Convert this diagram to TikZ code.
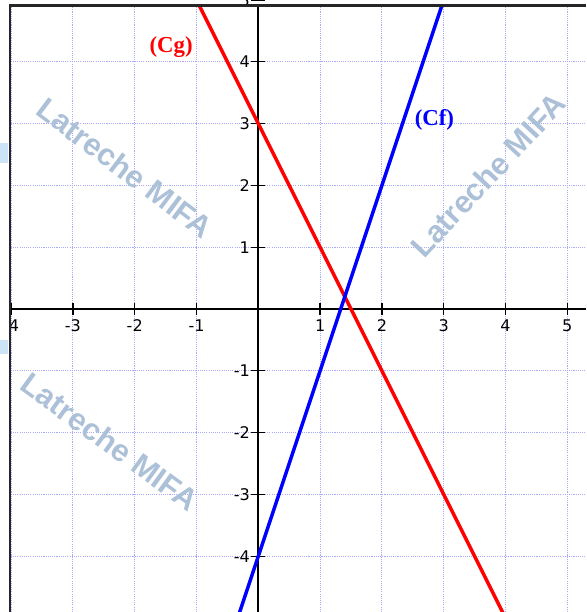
\documentclass[tikz,border=0pt]{standalone}
\usepackage{fontspec}
\setmainfont{Liberation Serif}
\newfontfamily\tickfont{DejaVu Sans}
\newfontfamily\wmfont{Liberation Sans}
\definecolor{gridc}{RGB}{170,170,250}
\definecolor{wmc}{RGB}{172,192,216}
\definecolor{cfblue}{RGB}{0,0,255}
\definecolor{cgred}{RGB}{255,0,0}
\definecolor{sidec}{RGB}{204,228,247}
\begin{document}
\begin{tikzpicture}[x=1cm,y=1cm,
  gridline/.style={gridc, line width=0.5pt, dash pattern=on 0.5pt off 0.5pt},
  axisline/.style={black, line width=0.9pt},
  tickmark/.style={black, line width=0.6pt},
  ticklabel/.style={font=\tickfont\fontsize{7.4}{8}\selectfont, inner sep=0pt},
  curve/.style={line width=1.6pt},
  curvelabel/.style={font=\bfseries\fontsize{10.5}{12}\selectfont, inner sep=0pt},
  watermark/.style={text=wmc, font=\wmfont\bfseries\fontsize{14.2}{16}\selectfont, inner sep=0pt},
  framebar/.style={line width=1.2pt, black!85}]
\useasboundingbox (-4.180,-4.903) rectangle (5.303,5.0);
% side artifacts
\fill[sidec] (-4.18,2.362) rectangle (-4.05,2.686);
\fill[sidec] (-4.18,-0.728) rectangle (-4.05,-0.502);
\begin{scope}
  \clip (-4.018,-4.903) rectangle (5.303,4.911);
  % grid
  \foreach \x in {-4,...,5} \draw[gridline] (\x,-4.903) -- (\x,5);
  \foreach \y in {-4,...,4} \draw[gridline] (-4.18,\y) -- (5.303,\y);
  % watermarks
  \node[watermark, rotate=-37] (wm1) at (-2.16,2.28) {Latreche MIFA};
  \node[watermark, rotate=47] (wm2) at (3.72,2.17) {Latreche MIFA};
  \node[watermark, rotate=-36] (wm3) at (-2.40,-2.15) {Latreche MIFA};
  % axes
  \coordinate (xl) at (-4.18,0);
  \coordinate (xr) at (5.303,0);
  \coordinate (yb) at (0,-4.903);
  \coordinate (yt) at (0,5);
  \draw[axisline] (xl) -- (xr);
  \draw[axisline] (yb) -- (yt);
  % ticks and labels
  \foreach \x in {-4,-3,-2,-1,1,2,3,4,5} {
    \draw[tickmark] (\x,-0.097) -- (\x,0.097);
    \node[ticklabel] (xlab\x) at (\x,-0.275) {\ifnum\x<0 -\the\numexpr-\x\relax\else\x\fi};
  }
  \foreach \y in {-4,-3,-2,-1,1,2,3,4} {
    \draw[tickmark] (-0.12,\y) -- (0.11,\y);
    \node[ticklabel, anchor=east] (ylab\y) at (-0.13,\y) {\ifnum\y<0 -\the\numexpr-\y\relax\else\y\fi};
  }
  % curves
  \coordinate (g1) at (-1,5);
  \coordinate (g2) at (4,-5);
  \coordinate (f1) at (-1/3,-5);
  \coordinate (f2) at (3,5);
  \draw[curve, cgred] (g1) -- (g2);
  \draw[curve, cfblue] (f1) -- (f2);
  \node[curvelabel, text=cgred] (cg) at (-1.41,4.24) {(Cg)};
  \node[curvelabel, text=cfblue] (cf) at (2.85,3.06) {(Cf)};
\end{scope}
\draw[tickmark] (-0.12,5) -- (0.11,5);
\node[ticklabel, anchor=east] (ylab5) at (-0.13,4.99) {5};
% frame
\coordinate (fa) at (-4.018,-4.903);
\coordinate (fb) at (-4.018,4.911);
\coordinate (fc) at (5.303,4.911);
\draw[framebar] (fa) -- (fb) -- (fc);
\end{tikzpicture}
\end{document}
